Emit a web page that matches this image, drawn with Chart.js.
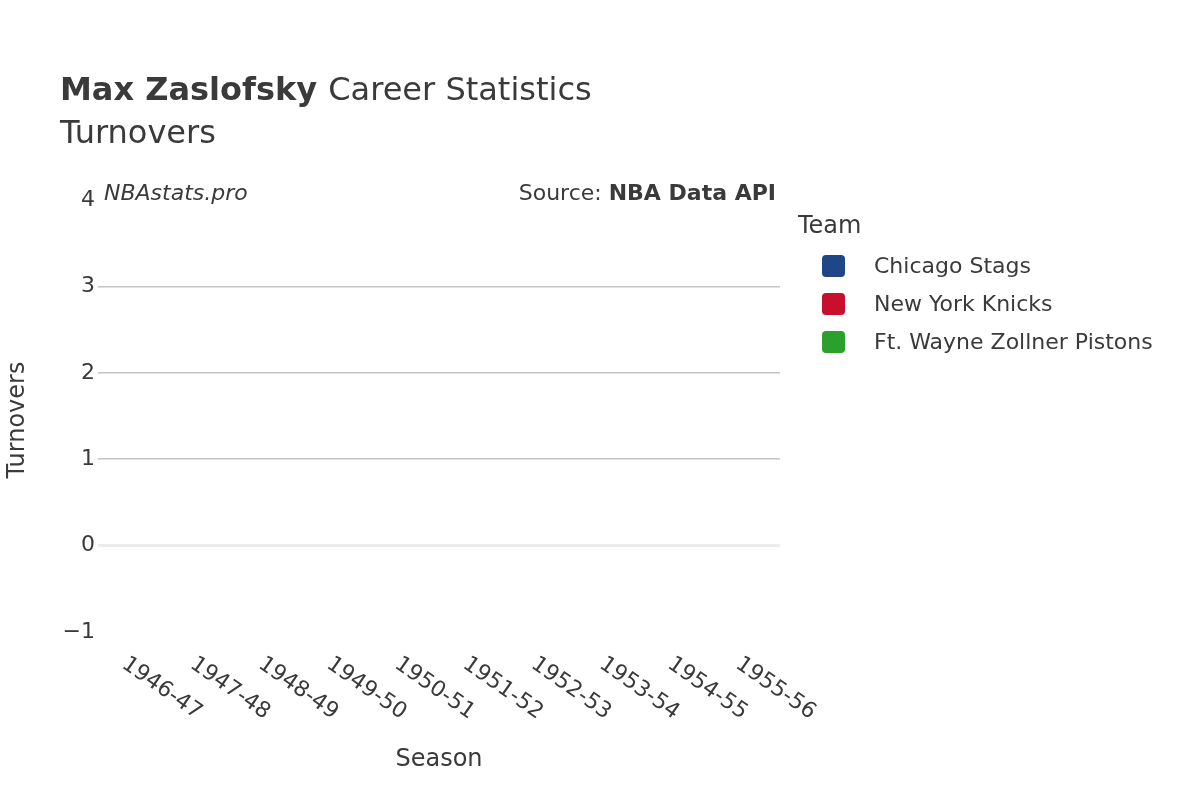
<!DOCTYPE html>
<html>
<head>
<meta charset="utf-8">
<script src="https://cdn.jsdelivr.net/npm/chart.js@4/dist/chart.umd.min.js"></script>
<style>
  body { margin: 0; background: #fff; }
  #wrap { width: 1200px; height: 800px; }
</style>
</head>
<body>
<div id="wrap"><canvas id="c" width="1200" height="800"></canvas></div>
<script>
const seasons = ["1946-47","1947-48","1948-49","1949-50","1950-51","1951-52","1952-53","1953-54","1954-55","1955-56"];
const teams = ["Chicago Stags","New York Knicks","Ft. Wayne Zollner Pistons"];
const teamColors = ["#1f4788","#c8102e","#2ca02c"];
// no turnover data recorded for these seasons
const chicagoStags = [null,null,null,null,null,null,null,null,null,null];
const newYorkKnicks = [null,null,null,null,null,null,null,null,null,null];
const ftWayne = [null,null,null,null,null,null,null,null,null,null];
const yTicks = [-1,0,1,2,3,4];

const FONT = "'DejaVu Sans', sans-serif";
const TXT = "#3a3a3a";

// ---------------- DECOR ----------------
const decor = {
  id: "decor",
  afterDraw(chart) {
    const ctx = chart.ctx;
    const x = chart.scales.x, y = chart.scales.y;
    ctx.save();
    ctx.fillStyle = TXT;
    ctx.textBaseline = "alphabetic";

    // title
    ctx.font = "bold 32px " + FONT;
    ctx.textAlign = "left";
    ctx.fillText("Max Zaslofsky", 60, 100);
    const w = ctx.measureText("Max Zaslofsky ").width;
    ctx.font = "32px " + FONT;
    ctx.fillText("Career Statistics", 60 + w, 100);
    ctx.fillText("Turnovers", 60, 143);

    // watermark + source
    ctx.font = "italic 22px " + FONT;
    ctx.fillText("NBAstats.pro", 104, 200);
    ctx.textAlign = "right";
    ctx.font = "bold 22px " + FONT;
    ctx.fillText("NBA Data API", 776, 200);
    const bw = ctx.measureText("NBA Data API").width;
    ctx.font = "22px " + FONT;
    ctx.fillText("Source: ", 776 - bw, 200);

    // y ticks
    ctx.font = "22px " + FONT;
    ctx.textAlign = "right";
    ctx.textBaseline = "middle";
    yTicks.forEach(v => {
      ctx.fillText(v < 0 ? "\u2212" + Math.abs(v) : String(v), 95, y.getPixelForValue(v));
    });

    // x ticks, rotated
    ctx.textAlign = "left";
    seasons.forEach((s, i) => {
      ctx.save();
      ctx.translate(x.getPixelForValue(i) - 8, 662);
      ctx.rotate(35 * Math.PI / 180);
      ctx.fillText(s, 0, 0);
      ctx.restore();
    });

    // axis titles
    ctx.font = "24px " + FONT;
    ctx.textAlign = "center";
    ctx.fillText("Season", 439, 760);
    ctx.save();
    ctx.translate(18, 420);
    ctx.rotate(-Math.PI / 2);
    ctx.fillText("Turnovers", 0, 0);
    ctx.restore();

    // legend
    ctx.textAlign = "left";
    ctx.font = "24px " + FONT;
    ctx.fillText("Team", 798, 227);
    ctx.font = "22px " + FONT;
    teams.forEach((t, i) => {
      const cy = 266 + i * 38;
      ctx.fillStyle = teamColors[i];
      ctx.beginPath();
      ctx.roundRect(822, cy - 11, 23, 22, 4);
      ctx.fill();
      ctx.fillStyle = TXT;
      ctx.fillText(t, 874, cy + 1);
    });
    ctx.restore();
  }
};

new Chart(document.getElementById("c"), {
  type: "bar",
  data: {
    labels: seasons,
    datasets: [
      { label: teams[0], data: chicagoStags, backgroundColor: teamColors[0] },
      { label: teams[1], data: newYorkKnicks, backgroundColor: teamColors[1] },
      { label: teams[2], data: ftWayne, backgroundColor: teamColors[2] }
    ]
  },
  options: {
    responsive: false,
    animation: false,
    layout: { padding: { left: 98, right: 420, top: 200, bottom: 160 } },
    plugins: { legend: { display: false }, tooltip: { enabled: false } },
    scales: {
      x: {
        ticks: { display: false },
        grid: { display: false },
        border: { display: false }
      },
      y: {
        min: -1, max: 4,
        ticks: { display: false, stepSize: 1 },
        border: { display: false },
        grid: {
          drawTicks: false,
          color: c => (c.tick.value === 0 ? "#ececec" : (c.tick.value === -1 || c.tick.value === 4) ? "rgba(0,0,0,0)" : "#c4c4c4"),
          lineWidth: c => (c.tick.value === 0 ? 3 : 1.5)
        }
      }
    }
  },
  plugins: [decor]
});
</script>
</body>
</html>
